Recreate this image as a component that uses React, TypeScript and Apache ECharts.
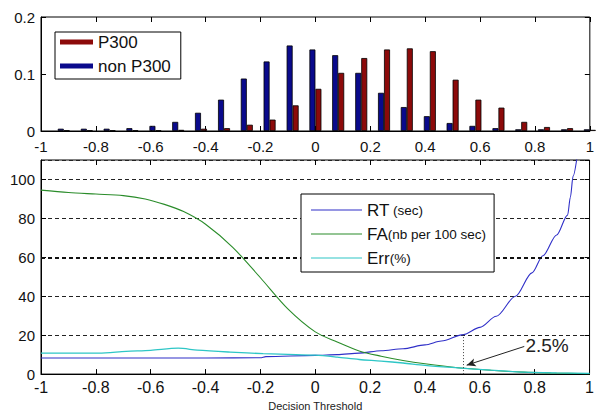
import { useEffect, useRef } from "react";
import * as echarts from "echarts";

// ---- Histogram (top panel) ----
const histBins = [-0.917, -0.833, -0.75, -0.667, -0.583, -0.5, -0.417, -0.333, -0.25, -0.167, -0.083, 0, 0.083, 0.167, 0.25, 0.333, 0.417, 0.5, 0.583, 0.667, 0.75, 0.833, 0.917, 1.0];
const nonP300Values = [0.004, 0.004, 0.004, 0.005, 0.009, 0.016, 0.032, 0.055, 0.092, 0.122, 0.15, 0.143, 0.133, 0.102, 0.067, 0.042, 0.026, 0.014, 0.009, 0.005, 0.003, 0.003, 0.003, 0.003];
const p300Values = [0.001, 0.001, 0.001, 0.001, 0.001, 0.002, 0.004, 0.005, 0.011, 0.02, 0.045, 0.074, 0.102, 0.128, 0.143, 0.145, 0.14, 0.09, 0.055, 0.041, 0.016, 0.007, 0.005, 0.002];
const histNames = ["P300", "non P300"];

// ---- Curves (bottom panel) ----
const rtX = [-1, -0.8, -0.6, -0.4, -0.2, -0.18, 0, 0.08, 0.16, 0.24, 0.32, 0.4, 0.46, 0.54, 0.6, 0.66, 0.73, 0.79, 0.83, 0.88, 0.92, 0.93, 0.94, 0.955];
const rtY = [8.3, 8.3, 8.3, 8.3, 8.4, 9, 9.6, 10, 10.8, 12, 13, 15, 17, 20.3, 24, 29.7, 40, 52, 60.8, 71.5, 81.7, 90.8, 101.7, 112];
const faX = [-1, -0.9, -0.8, -0.7, -0.62, -0.55, -0.48, -0.4, -0.3, -0.2, -0.1, 0, 0.08, 0.16, 0.24, 0.32, 0.4, 0.52, 0.64, 0.76, 0.86, 1];
const faY = [94.5, 93.3, 92.5, 91.7, 90, 87.2, 83.5, 77, 65, 49.5, 33.5, 21.7, 16.5, 11.9, 9.2, 7, 5.3, 3.3, 2, 1, 0.6, 0.2];
const errX = [-1, -0.79, -0.69, -0.6, -0.5, -0.43, -0.31, -0.19, -0.07, 0, 0.08, 0.16, 0.24, 0.32, 0.4, 0.52, 0.64, 0.76, 0.88, 1];
const errY = [10.8, 10.8, 11.7, 12.2, 13.3, 12.3, 11.3, 10.5, 10, 9.7, 8.7, 7.5, 6.7, 5.7, 4.5, 3.2, 2, 1, 0.6, 0.4];
const curveNames = ["RT", "FA", "Err"];
const curveLabels = ["{a|RT}{b| (sec)}", "{a|FA}{b|(nb per 100 sec)}", "{a|Err}{b|(%)}"];

// ---- Annotation ----
const markX = 0.538;
const markRT = 20.3;
const arrowFrom = [0.762, 14.2];
const arrowTo = [0.552, 4.6];
const noteAt = [0.845, 14.7];
const noteText = "2.5%";
const xAxisTitle = "Decision Threshold";

const zip = (xs: number[], ys: number[]) => xs.map((x, i) => [x, ys[i]]);

const FONT = "'Liberation Sans', Arial, sans-serif";

export default function App() {
  const ref = useRef<HTMLDivElement>(null);
  useEffect(() => {
    if (!ref.current) return;
    const chart = echarts.init(ref.current, undefined, { renderer: "svg" });
    const tickStyle = { show: true, inside: true, length: 5, lineStyle: { color: "#000", width: 1 } };
    const lineOn = { show: true, onZero: false, lineStyle: { color: "#000", width: 1 } };
    const lineOff = { show: false, onZero: false };
    const baseX = {
      type: "value" as const,
      min: -1,
      max: 1,
      interval: 0.2,
      splitLine: { show: false },
    };
    const option: any = {
      animation: false,
      backgroundColor: "#fff",
      textStyle: { fontFamily: FONT },
      grid: [
        { left: 41, top: 17, width: 555, height: 114, show: true, borderColor: "#000", borderWidth: 1, backgroundColor: "transparent" },
        { left: 41, top: 160, width: 555, height: 220, show: true, borderColor: "#000", borderWidth: 1, backgroundColor: "transparent" },
      ],
      xAxis: [
        {
          ...baseX, gridIndex: 0, position: "bottom",
          axisLine: lineOn,
          axisTick: tickStyle,
          axisLabel: { fontSize: 15, color: "#111", margin: 8, fontFamily: FONT },
        },
        {
          ...baseX, gridIndex: 0, position: "top",
          axisLine: lineOff, axisTick: tickStyle, axisLabel: { show: false },
        },
        {
          ...baseX, gridIndex: 1, position: "bottom",
          axisLine: lineOn,
          axisTick: tickStyle,
          axisLabel: { fontSize: 16, color: "#111", margin: 5, fontFamily: FONT },
          name: xAxisTitle, nameLocation: "middle", nameGap: 22,
          nameTextStyle: { fontSize: 11, color: "#222", fontFamily: FONT },
        },
        {
          ...baseX, gridIndex: 1, position: "top",
          axisLine: lineOff, axisTick: tickStyle, axisLabel: { show: false },
        },
      ],
      yAxis: [
        {
          type: "value", gridIndex: 0, position: "left", min: 0, max: 0.2, interval: 0.1,
          axisLine: lineOn,
          axisTick: tickStyle,
          axisLabel: { fontSize: 15, color: "#111", margin: 6, fontFamily: FONT },
          splitLine: { show: false },
        },
        {
          type: "value", gridIndex: 0, position: "right", min: 0, max: 0.2, interval: 0.1,
          axisLine: lineOff, axisTick: tickStyle, axisLabel: { show: false }, splitLine: { show: false },
        },
        {
          type: "value", gridIndex: 1, position: "left", min: 0, max: 110, interval: 20,
          axisLine: lineOn,
          axisTick: tickStyle,
          axisLabel: { fontSize: 15, color: "#111", margin: 6, fontFamily: FONT, showMaxLabel: false },
          splitLine: { show: true, lineStyle: { color: "#222", width: 1, type: [4, 3] } },
        },
        {
          type: "value", gridIndex: 1, position: "right", min: 0, max: 110, interval: 20,
          axisLine: lineOff, axisTick: tickStyle, axisLabel: { show: false }, splitLine: { show: false },
        },
      ],
      legend: [
        {
          data: histNames,
          orient: "vertical",
          left: 55, top: 32, z: 20,
          icon: "rect",
          itemWidth: 33, itemHeight: 5, itemGap: 6,
          padding: [1, 10, 4, 5],
          borderColor: "#000", borderWidth: 1, backgroundColor: "#fff",
          itemStyle: { borderWidth: 0 },
          textStyle: { fontSize: 17, lineHeight: 18, color: "#111", fontFamily: FONT },
          selectedMode: false,
        },
        {
          data: curveNames,
          orient: "vertical",
          left: 301, top: 194, z: 20,
          icon: "rect",
          itemWidth: 51, itemHeight: 1, itemGap: 6,
          padding: [7, 8, 5, 10],
          borderColor: "#000", borderWidth: 1, backgroundColor: "#fff",
          formatter: (name: string) => curveLabels[curveNames.indexOf(name)],
          textStyle: {
            color: "#111", fontFamily: FONT, lineHeight: 18,
            rich: {
              a: { fontSize: 17, lineHeight: 18, color: "#111", fontFamily: FONT },
              b: { fontSize: 13.5, lineHeight: 18, color: "#111", fontFamily: FONT },
            },
          },
          selectedMode: false,
        },
      ],
      series: [
        {
          name: histNames[1], type: "bar", xAxisIndex: 0, yAxisIndex: 0,
          data: zip(histBins, nonP300Values),
          barWidth: 6, barGap: "0%",
          itemStyle: { color: "#0a0a8c", borderColor: "#000", borderWidth: 0.8 },
        },
        {
          name: histNames[0], type: "bar", xAxisIndex: 0, yAxisIndex: 0,
          data: zip(histBins, p300Values),
          barWidth: 6, barGap: "0%",
          itemStyle: { color: "#8c0a0a", borderColor: "#000", borderWidth: 0.8 },
        },
        {
          name: curveNames[0], type: "line", xAxisIndex: 2, yAxisIndex: 2,
          data: zip(rtX, rtY), showSymbol: false, smooth: 0.3, smoothMonotone: "x",
          color: "#2f2fc8", lineStyle: { color: "#2f2fc8", width: 1.1 },
          markLine: {
            silent: true, symbol: "none", animation: false,
            label: { show: false },
            data: [
              [{ coord: [markX, 0] }, { coord: [markX, markRT] }],
            ],
            lineStyle: { type: [1, 2], color: "#444", width: 1 },
          },
        },
        {
          name: curveNames[1], type: "line", xAxisIndex: 2, yAxisIndex: 2,
          data: zip(faX, faY), showSymbol: false, smooth: 0.3,
          color: "#2a8c2a", lineStyle: { color: "#2a8c2a", width: 1.1 },
          markLine: {
            silent: true, symbol: ["none", "arrow"], symbolSize: [6, 9], animation: false,
            label: { show: false },
            data: [
              [{ coord: arrowFrom }, { coord: arrowTo }],
            ],
            lineStyle: { type: "solid", color: "#222", width: 1 },
          },
        },
        {
          name: curveNames[2], type: "line", xAxisIndex: 2, yAxisIndex: 2,
          data: zip(errX, errY), showSymbol: false, smooth: 0.3,
          color: "#2ec6c6", lineStyle: { color: "#2ec6c6", width: 1.3 },
          markLine: {
            silent: true, symbol: "none", animation: false,
            label: { show: false },
            data: [{ yAxis: 60 }],
            lineStyle: { type: [4, 3], color: "#111", width: 2 },
          },
          markPoint: {
            silent: true, animation: false,
            symbol: "rect", symbolSize: 1,
            itemStyle: { color: "transparent" },
            data: [{ coord: noteAt, value: noteText }],
            label: {
              show: true, position: "inside", formatter: noteText,
              fontSize: 19, color: "#222", fontFamily: FONT,
            },
          },
        },
      ],
    };
    chart.setOption(option);
    return () => chart.dispose();
  }, []);
  return (
    <div
      ref={ref}
      style={{ position: "fixed", left: 0, top: 0, width: 597, height: 416, background: "#fff" }}
    />
  );
}
